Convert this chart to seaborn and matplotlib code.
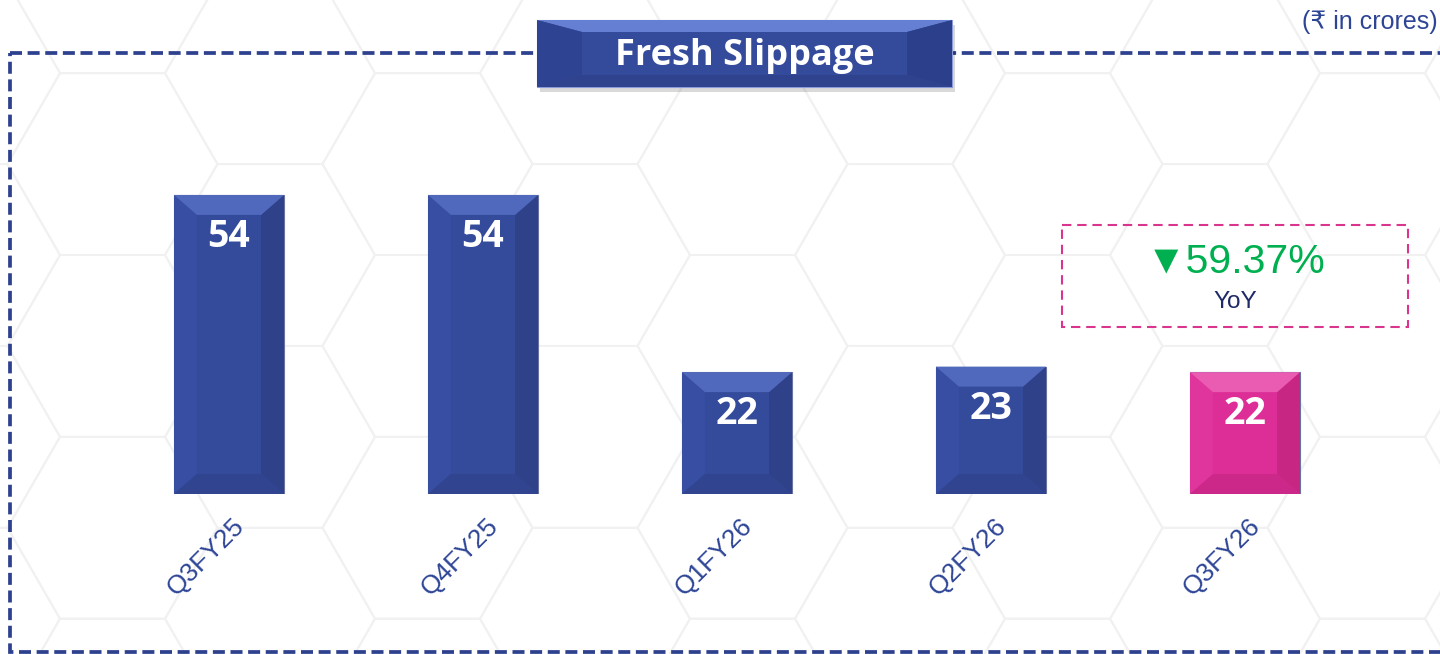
import numpy as np
import matplotlib
matplotlib.use("Agg")
import matplotlib.pyplot as plt
import matplotlib.transforms as mtransforms
from matplotlib.patches import Rectangle, Polygon, RegularPolygon
import seaborn as sns

# data
quarters = ["Q3FY25", "Q4FY25", "Q1FY26", "Q2FY26", "Q3FY26"]
slippage = [54, 54, 22, 23, 22]
yoy_change = "59.37%"

BLUE = "#344A9B"
PINK = "#DD2E97"
bar_colors = [BLUE, BLUE, BLUE, BLUE, PINK]
facets = {
    BLUE: {"top": "#5169BD", "left": "#374EA2", "right": "#2E4189", "bottom": "#30448F"},
    PINK: {"top": "#EA5CB2", "left": "#E0359C", "right": "#C82683", "bottom": "#CC2889"},
}
NAVY = "#2E4596"

sns.set_theme(style="white")
plt.rcParams["font.family"] = ["Liberation Sans", "DejaVu Sans"]

W, H = 1440, 654
fig = plt.figure(figsize=(W / 100, H / 100), dpi=100)
fig.patch.set_facecolor("white")

# background: faint hexagon pattern (pixel coordinates)
bg = fig.add_axes([0, 0, 1, 1], zorder=0)
bg.set_xlim(0, W)
bg.set_ylim(H, 0)
bg.axis("off")
side = 105
rowh = side * np.sqrt(3)
for ci in range(-1, 11):
    cx = 585 + (ci - 3) * 1.5 * side
    off = 0 if ci % 2 == 0 else rowh / 2
    for ri in range(-2, 6):
        cy = 255 + side * np.sqrt(3) / 2 + ri * rowh + off
        bg.add_patch(RegularPolygon((cx, cy), 6, radius=side, orientation=np.pi / 6,
                                    fill=False, edgecolor="#F1F1F1", lw=1.4))

# main bar chart
ax = fig.add_axes([102 / W, 160 / H, 1270 / W, 443 / H], zorder=2)
ax.patch.set_visible(False)
sns.barplot(x=quarters, y=slippage, hue=quarters, palette=bar_colors, legend=False,
            width=0.433, saturation=1, ax=ax, edgecolor="#6A72A0", linewidth=0.8)
ax.set_xlim(-0.5, len(quarters) - 0.5)
ax.set_ylim(0, 80)
sns.despine(ax=ax, left=True, bottom=True)
ax.set_yticks([])
ax.set_xlabel("")
ax.set_ylabel("")
ax.tick_params(axis="x", length=0, pad=20)

# bevel facets on each bar
bx, by = 0.09, 3.6
for p, col in zip(ax.patches, bar_colors):
    x0, w, h = p.get_x(), p.get_width(), p.get_height()
    fc = facets[col]
    polys = {
        "left": [(x0, 0), (x0, h), (x0 + bx, h - by), (x0 + bx, by)],
        "right": [(x0 + w, 0), (x0 + w, h), (x0 + w - bx, h - by), (x0 + w - bx, by)],
        "bottom": [(x0, 0), (x0 + w, 0), (x0 + w - bx, by), (x0 + bx, by)],
        "top": [(x0, h), (x0 + w, h), (x0 + w - bx, h - by), (x0 + bx, h - by)],
    }
    for k, pts in polys.items():
        ax.add_patch(Polygon(pts, closed=True, facecolor=fc[k], edgecolor="none", zorder=3))

# value labels inside the bar tops
lab_off = mtransforms.offset_copy(ax.transData, fig=fig, x=0, y=-42 / 100 * 72, units="points")
for i, v in enumerate(slippage):
    ax.text(i, v, str(v), transform=lab_off, ha="center", va="center", color="white",
            fontsize=27, fontweight="bold", family=["Open Sans", "DejaVu Sans"], zorder=5)

ax.set_xticks(range(len(quarters)))
ax.set_xticklabels(quarters, rotation=45, ha="right", va="center", rotation_mode="anchor",
                   fontsize=19, color=NAVY)
shift = mtransforms.ScaledTranslation(12 / 100, 0, fig.dpi_scale_trans)
for t in ax.get_xticklabels():
    t.set_transform(t.get_transform() + shift)

# overlay: frame, title box, notes (pixel coordinates)
ov = fig.add_axes([0, 0, 1, 1], zorder=4)
ov.set_xlim(0, W)
ov.set_ylim(H, 0)
ov.axis("off")

ov.add_patch(Rectangle((10, 53), W + 20, 652 - 53, fill=False, edgecolor="#2E418F",
                       lw=2.7, linestyle=(0, (3.2, 1.5))))

# title box with bevel and shadow
tx0, ty0, tx1, ty1 = 537, 20, 952, 87
ov.add_patch(Rectangle((tx0 + 3, ty0 + 5), tx1 - tx0, ty1 - ty0, facecolor="#000000",
                       alpha=0.15, edgecolor="none"))
ov.add_patch(Rectangle((tx0, ty0), tx1 - tx0, ty1 - ty0, facecolor=BLUE, edgecolor="#8A9AD8", lw=0.8))
tb, ts = 12, 45
ov.add_patch(Polygon([(tx0, ty0), (tx1, ty0), (tx1 - ts, ty0 + tb), (tx0 + ts, ty0 + tb)],
                     facecolor="#6580D2", edgecolor="none"))
ov.add_patch(Polygon([(tx0, ty0), (tx0 + ts, ty0 + tb), (tx0 + ts, ty1 - tb), (tx0, ty1)],
                     facecolor="#2F4393", edgecolor="none"))
ov.add_patch(Polygon([(tx1, ty0), (tx1 - ts, ty0 + tb), (tx1 - ts, ty1 - tb), (tx1, ty1)],
                     facecolor="#2C3F8A", edgecolor="none"))
ov.add_patch(Polygon([(tx0, ty1), (tx1, ty1), (tx1 - ts, ty1 - tb), (tx0 + ts, ty1 - tb)],
                     facecolor="#2F428E", edgecolor="none"))
ov.text((tx0 + tx1) / 2, 56, "Fresh Slippage", ha="center", va="center", color="white",
        fontsize=26, fontweight="bold", family=["Open Sans", "DejaVu Sans"])

ov.text(1438, 22, "(₹ in crores)", ha="right", va="center", color=NAVY, fontsize=18,
        family=["Liberation Sans", "DejaVu Sans"])

# YoY callout
ov.add_patch(Rectangle((1062, 225), 1408 - 1062, 327 - 225, fill=False, edgecolor="#D9358F",
                       lw=1.5, linestyle=(0, (4.5, 2.8))))
ov.text(1236, 261, "▼" + yoy_change, ha="center", va="center", color="#00B050", fontsize=29.5,
        family=["Liberation Sans", "DejaVu Sans"])
ov.text(1235, 302, "YoY", ha="center", va="center", color="#1F2A66", fontsize=17.5,
        family=["Liberation Sans", "DejaVu Sans"])

fig.savefig("out.png", dpi=100, facecolor="white")
